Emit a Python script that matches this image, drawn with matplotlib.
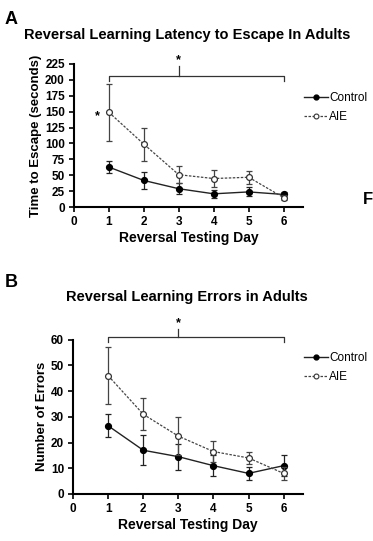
import numpy as np
import matplotlib
matplotlib.use('Agg')
import matplotlib.pyplot as plt
from matplotlib.lines import Line2D

plt.rcParams['font.family'] = ['Liberation Sans', 'DejaVu Sans']

# Reversal testing days
days = [1, 2, 3, 4, 5, 6]

# Panel A: latency to escape (seconds), mean and SEM
latControl = [63, 42, 29, 21, 24, 20]
latControlErr = [9, 14, 9, 6, 7, 4]
latAIE = [149, 99, 51, 45, 47, 15]
latAIEErr = [45, 26, 13, 13, 10, 4]

# Panel B: number of errors, mean and SEM
errControl = [26.5, 17, 14.5, 11, 8, 11]
errControlErr = [4.5, 5.8, 5, 4, 2.5, 4]
errAIE = [46, 31, 22.5, 16.5, 14, 8]
errAIEErr = [11, 6.2, 7.5, 4, 2.5, 2.5]

fig = plt.figure(figsize=(3.73, 5.41), dpi=100)
axA = fig.add_axes([0.198, 0.617, 0.614, 0.265])
axB = fig.add_axes([0.196, 0.087, 0.616, 0.285])

dashStyle = (0, (2, 1.2))


def drawPanel(ax, yc, ycErr, ya, yaErr, ylim, yticks, ylabel, bracket, legY):
    ax.errorbar(days, yc, yerr=ycErr, color='#222222', lw=1.0, marker='o', ms=4.2,
                mfc='black', mec='black', capsize=2.5, elinewidth=0.9, capthick=0.9,
                zorder=3)
    ax.errorbar(days, ya, yerr=yaErr, color='#444444', lw=0.9, ls=dashStyle, marker='o', ms=4.2,
                mfc='white', mec='#333333', mew=0.9, capsize=2.5, elinewidth=0.9, capthick=0.9,
                zorder=4)
    ax.set_xlim(0, 6.55)
    ax.set_ylim(*ylim)
    ax.set_xticks([0, 1, 2, 3, 4, 5, 6])
    ax.set_yticks(yticks)
    for s in ['top', 'right']:
        ax.spines[s].set_visible(False)
    for s in ['left', 'bottom']:
        ax.spines[s].set_linewidth(1.5)
    ax.tick_params(direction='out', length=3.5, width=1.2, labelsize=8.5, pad=3)
    for lbl in ax.get_xticklabels() + ax.get_yticklabels():
        lbl.set_fontweight('bold')
    ax.set_xlabel('Reversal Testing Day', fontsize=10, fontweight='bold', labelpad=2)
    ax.set_ylabel(ylabel, fontsize=9.5, fontweight='bold', labelpad=2)
    # significance bracket over days 1-6
    y0, y1, y2, ys = bracket
    ax.plot([1, 1, 6, 6], [y0, y1, y1, y0], color='#333333', lw=0.9, clip_on=False)
    ax.plot([3, 3], [y1, y2], color='#333333', lw=0.9, clip_on=False)
    ax.text(3, ys, '*', ha='center', va='center', fontsize=9, fontweight='bold', clip_on=False)
    handles = [
        Line2D([], [], color='#222222', lw=1.0, marker='o', ms=3.5, mfc='black', mec='black'),
        Line2D([], [], color='#444444', lw=0.9, ls=dashStyle, marker='o', ms=3.5,
               mfc='white', mec='#333333', mew=0.8),
    ]
    ax.legend(handles, ['Control', 'AIE'], loc='center left', bbox_to_anchor=(1.005, legY),
              frameon=False, fontsize=8.5, handlelength=2.0, handletextpad=0.15,
              labelspacing=0.6, borderaxespad=0, borderpad=0)


drawPanel(axA, latControl, latControlErr, latAIE, latAIEErr, (0, 225),
          [0, 25, 50, 75, 100, 125, 150, 175, 200, 225], 'Time to Escape (seconds)',
          (198, 206, 222, 231), 0.696)
axA.text(0.66, 143, '*', ha='center', va='center', fontsize=9, fontweight='bold')

drawPanel(axB, errControl, errControlErr, errAIE, errAIEErr, (0, 60),
          [0, 10, 20, 30, 40, 50, 60], 'Number of Errors',
          (59, 61, 64, 66.5), 0.821)

fig.text(0.013, 0.964, 'A', fontsize=13, fontweight='bold', va='center')
fig.text(0.065, 0.935, 'Reversal Learning Latency to Escape In Adults', fontsize=10.5,
         fontweight='bold', va='center')
fig.text(0.972, 0.632, 'F', fontsize=12, fontweight='bold', va='center')
fig.text(0.013, 0.477, 'B', fontsize=13, fontweight='bold', va='center')
fig.text(0.5, 0.451, 'Reversal Learning Errors in Adults', fontsize=10.5,
         fontweight='bold', va='center', ha='center')

fig.savefig('out.png', dpi=100)
